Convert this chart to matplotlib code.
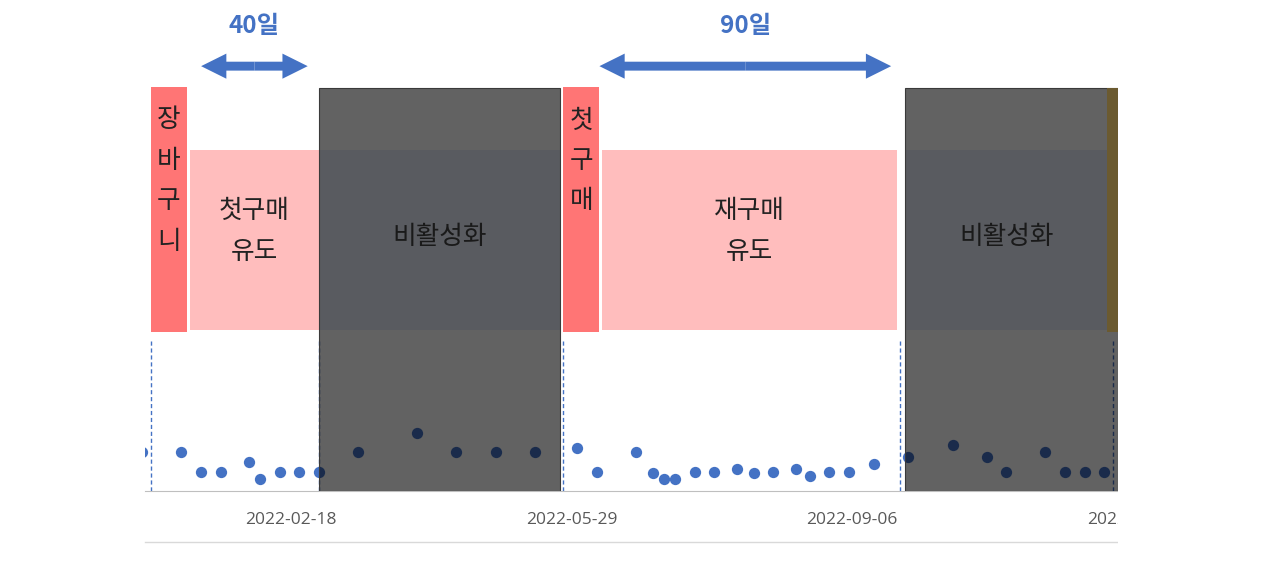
import matplotlib
matplotlib.use('Agg')
import matplotlib.pyplot as plt
import matplotlib.dates as mdates
from matplotlib.patches import Rectangle
from matplotlib.lines import Line2D

plt.rcParams['font.family'] = ['Open Sans', 'Noto Sans CJK KR', 'DejaVu Sans']

# weekly activity points
dates = ['2021-12-27', '2022-01-10', '2022-01-17', '2022-01-24', '2022-02-03',
         '2022-02-07', '2022-02-14', '2022-02-21', '2022-02-28', '2022-03-14',
         '2022-04-04', '2022-04-18', '2022-05-02', '2022-05-16', '2022-05-31',
         '2022-06-07', '2022-06-21', '2022-06-27', '2022-07-01', '2022-07-05',
         '2022-07-12', '2022-07-19', '2022-07-27', '2022-08-02', '2022-08-09',
         '2022-08-17', '2022-08-22', '2022-08-29', '2022-09-05', '2022-09-14',
         '2022-09-26', '2022-10-12', '2022-10-24', '2022-10-31', '2022-11-14',
         '2022-11-21', '2022-11-28', '2022-12-05']
values = [20, 20, 10, 10, 15, 6, 10, 10, 10, 20,
          30, 20, 20, 20, 22, 10, 20, 9, 6, 6,
          10, 10, 11.5, 9, 10, 11.5, 7.5, 10, 10, 14,
          17.5, 23.5, 17.5, 10, 20, 10, 10, 10]

# customer journey phases
phase_labels = ['장\n바\n구\n니', '첫구매\n유도', '비활성화', '첫\n구\n매', '재구매\n유도', '비활성화']
phase_kind = ['event', 'nudge', 'dormant', 'event', 'nudge', 'dormant']
phase_start = ['2021-12-30', '2022-01-13', '2022-02-28', '2022-05-26', '2022-06-09', '2022-09-25']
phase_end = ['2022-01-12', '2022-02-28', '2022-05-25', '2022-06-08', '2022-09-22', '2022-12-31']
next_event = '2022-12-06'

marker_dates = ['2021-12-30', '2022-02-28', '2022-05-26', '2022-09-23', '2022-12-08']

arrow_spans = [('2022-01-17', '2022-02-24'), ('2022-06-08', '2022-09-20')]
arrow_labels = ['40일', '90일']

tick_dates = ['2022-02-18', '2022-05-29', '2022-09-06', '2022-12-15']

num = mdates.datestr2num
W, H = 1280, 566
fig = plt.figure(figsize=(W / 100, H / 100), dpi=100)
# axes runs a bit past the visible crop so the last tick label can be cut off
ax = fig.add_axes([145 / W, 75 / H, 993 / W, 405 / H])
tr = ax.get_xaxis_transform()

blue = '#4472c4'
kr = ['Noto Sans CJK KR', 'DejaVu Sans']

ax.scatter(num(dates), values, s=66, color=blue, zorder=3, linewidths=0)

for d in marker_dates:
    ax.plot([num(d)] * 2, [0, 0.373], transform=tr, color=blue, lw=1,
            ls=(0, (3, 2)), zorder=2.5)

styles = {
    'event': dict(fc='#ff7575', ec='none', y0=0.393, y1=0.998, z=2),
    'nudge': dict(fc='#ffbdbd', ec='none', y0=0.398, y1=0.842, z=2),
    'dormant': dict(fc=(0, 0, 0, 0.615), ec='#3a3a3a', y0=-0.003, y1=0.995, z=4),
}
for lab, kind, s, e in zip(phase_labels, phase_kind, phase_start, phase_end):
    st = styles[kind]
    x0, x1 = num(s), num(e)
    if kind == 'dormant':
        ax.add_patch(Rectangle((x0, 0.3975), x1 - x0, 0.4445, transform=tr,
                               fc='#e7ecf9', ec='none', zorder=1))
    ax.add_patch(Rectangle((x0, st['y0']), x1 - x0, st['y1'] - st['y0'], transform=tr,
                           fc=st['fc'], ec=st['ec'], lw=0.8, zorder=st['z']))
    if kind == 'event':
        ax.text((x0 + x1) / 2, 0.947, lab, transform=tr, ha='center', va='top',
                fontsize=18.5, family=kr, color='#222222', linespacing=1.72, zorder=6)
    elif kind == 'nudge':
        ax.text((x0 + x1) / 2, 0.641, lab, transform=tr, ha='center', va='center',
                fontsize=18.5, family=kr, color='#222222', linespacing=1.72, zorder=6)
    else:
        xe = min(x1, num(next_event))
        ax.text((x0 + xe) / 2, 0.627, lab, transform=tr, ha='center', va='center',
                fontsize=18.5, family=kr, color='#1a1a1a', zorder=6)

# start of the next event, partly cut off
ax.add_patch(Rectangle((num(next_event), 0.393), 20, 0.602, transform=tr,
                       fc='#6b5a30', ec='none', zorder=5))

for (a, b), lab in zip(arrow_spans, arrow_labels):
    xa, xb = num(a), num(b)
    xm = (xa + xb) / 2
    for tip in (xa, xb):
        ax.arrow(xm, 1.049, tip - xm, 0, transform=tr, width=0.022, head_width=0.062,
                 head_length=9, length_includes_head=True, fc=blue, ec='none',
                 clip_on=False, zorder=6)
    ax.text(xm, 1.148, lab, transform=tr, ha='center', va='center', fontsize=17.5,
            fontweight='bold', family=kr, color=blue)

ax.set_yticks([])
ax.set_xticks(num(tick_dates))
ax.set_xticklabels(tick_dates)
ax.set_xlim(num('2021-12-28'), num('2022-12-17'))
ax.set_ylim(0, 207.7)
ax.tick_params(axis='x', length=0, pad=15, labelsize=12.5, labelcolor='#595959')
for side in ['top', 'left', 'right']:
    ax.spines[side].set_visible(False)
ax.spines['bottom'].set_color('#bfbfbf')

fig.add_artist(Line2D([145 / W, 1118 / W], [24 / H, 24 / H], transform=fig.transFigure,
                      color='#d9d9d9', lw=1))
fig.add_artist(Rectangle((1118 / W, 0), 1, 1, transform=fig.transFigure,
                         fc='white', ec='none', zorder=10))

fig.savefig('out.png', dpi=100)
